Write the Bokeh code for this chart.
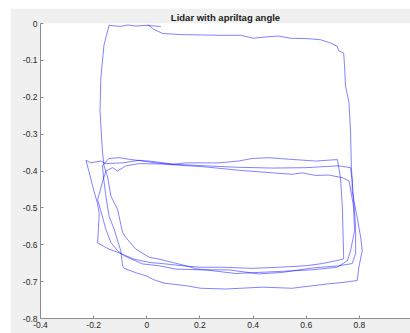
from bokeh.plotting import figure
from bokeh.models import Range1d, FixedTicker
from bokeh.embed import file_html
from bokeh.resources import INLINE

title_text = "Lidar with apriltag angle"
x_ticks = [-0.4, -0.2, 0.0, 0.2, 0.4, 0.6, 0.8]
x_labels = ["-0.4", "-0.2", "0", "0.2", "0.4", "0.6", "0.8"]
y_ticks = [0.0, -0.1, -0.2, -0.3, -0.4, -0.5, -0.6, -0.7, -0.8]
y_labels = ["0", "-0.1", "-0.2", "-0.3", "-0.4", "-0.5", "-0.6", "-0.7", "-0.8"]

# lidar trajectory (x, y) in metres
path_x = [
    0.003, 0.026, 0.060, 0.128, 0.203, 0.278, 0.353, 0.402, 0.454, 0.496, 0.541, 0.604, 0.654, 0.692, 0.717, 0.722, 0.741, 0.744, 0.748, 0.761, 0.767, 0.770,
    0.773, 0.773, 0.778, 0.792, 0.805, 0.811, 0.798, 0.792,
    0.741, 0.684, 0.579, 0.548, 0.435, 0.297, 0.203, 0.147, 0.065, 0.027, -0.004, -0.041, -0.085,
    -0.091, -0.098, -0.123, -0.142, -0.154, -0.162, -0.167,
    -0.143, -0.104, -0.068, -0.016, 0.034, 0.097, 0.147, 0.222, 0.271, 0.346, 0.397, 0.459, 0.534, 0.635, 0.717,
    0.729, 0.736, 0.741, 0.739,
    0.661, 0.598, 0.497, 0.397, 0.285, 0.203,
    0.134, 0.071, 0.009, -0.048, -0.104, -0.142, -0.185,
    -0.179, -0.185, -0.199, -0.218, -0.229,
    -0.211, -0.173, -0.154, -0.091, -0.030, 0.008, 0.109, 0.222, 0.346, 0.473, 0.598, 0.673, 0.722, 0.767,
    0.773, 0.778, 0.786, 0.786, 0.773,
    0.723, 0.623, 0.510, 0.421, 0.308, 0.203,
    0.109, 0.046, -0.016, -0.085, -0.110, -0.135, -0.154, -0.173, -0.185, -0.165, -0.154,
    -0.129, -0.110, -0.079, -0.030, 0.053, 0.222, 0.346, 0.473, 0.548, 0.585, 0.635, 0.684, 0.736, 0.761,
    0.778, 0.782, 0.767, 0.755, 0.717,
    0.623, 0.510, 0.335, 0.184,
    0.147, 0.097, 0.046, 0.009, -0.041, -0.079, -0.091, -0.110, -0.135, -0.148, -0.161,
    -0.167, -0.176, -0.173, -0.161, -0.142, -0.098, -0.071, -0.041, -0.004, 0.053,
]
path_y = [
    -0.002, -0.016, -0.027, -0.030, -0.031, -0.032, -0.032, -0.040, -0.036, -0.034, -0.040, -0.041, -0.044, -0.053, -0.062, -0.074, -0.080, -0.111, -0.170, -0.215, -0.296, -0.391,
    -0.422, -0.454, -0.476, -0.526, -0.580, -0.616, -0.661, -0.697,
    -0.702, -0.706, -0.715, -0.718, -0.715, -0.720, -0.718, -0.711, -0.704, -0.695, -0.684, -0.676, -0.664,
    -0.657, -0.616, -0.558, -0.522, -0.468, -0.422, -0.386,
    -0.366, -0.364, -0.368, -0.373, -0.378, -0.382, -0.378, -0.378, -0.378, -0.373, -0.366, -0.364, -0.368, -0.373, -0.369,
    -0.418, -0.499, -0.634, -0.639,
    -0.651, -0.657, -0.661, -0.664, -0.661, -0.661,
    -0.657, -0.652, -0.648, -0.639, -0.622, -0.612, -0.595,
    -0.516, -0.489, -0.454, -0.400, -0.371,
    -0.378, -0.373, -0.380, -0.378, -0.371, -0.373, -0.382, -0.386, -0.390, -0.392, -0.391, -0.388, -0.386, -0.391,
    -0.427, -0.472, -0.553, -0.624, -0.651,
    -0.657, -0.663, -0.675, -0.679, -0.668, -0.668,
    -0.666, -0.657, -0.652, -0.630, -0.616, -0.594, -0.558, -0.508, -0.478, -0.425, -0.400,
    -0.391, -0.400, -0.386, -0.380, -0.381, -0.389, -0.398, -0.405, -0.409, -0.405, -0.412, -0.411, -0.418, -0.427,
    -0.495, -0.562, -0.616, -0.643, -0.661,
    -0.668, -0.672, -0.678, -0.665,
    -0.657, -0.648, -0.639, -0.634, -0.612, -0.580, -0.567, -0.504, -0.468, -0.414, -0.386,
    -0.346, -0.238, -0.148, -0.058, -0.005, -0.008, -0.004, -0.007, -0.005, -0.008,
]

p = figure(width=400, height=325, output_backend="svg", toolbar_location=None,
           x_range=Range1d(-0.4, 0.9925), y_range=Range1d(-0.8, 0.0),
           min_border_left=30, min_border_right=0, min_border_top=14, min_border_bottom=15)
p.margin = (8, 0, 0, 10)
p.title.text = title_text
p.title.text_font = "Liberation Sans"
p.title.text_font_size = "9.5px"
p.title.text_font_style = "bold"
p.title.text_color = "#1a1a1a"
p.title.align = "center"
p.title.standoff = 2
p.title.offset = 0

p.border_fill_color = "#f0f0f0"
p.background_fill_color = "white"
p.outline_line_color = None
p.xgrid.visible = False
p.ygrid.visible = False

for ax, ticks, labels in ((p.xaxis, x_ticks, x_labels), (p.yaxis, y_ticks, y_labels)):
    ax.ticker = FixedTicker(ticks=ticks)
    ax.major_label_overrides = {t: l for t, l in zip(ticks, labels)}
    ax.axis_line_color = "#8c8c8c"
    ax.major_tick_line_color = "#8c8c8c"
    ax.major_tick_in = 3
    ax.major_tick_out = 0
    ax.minor_tick_line_color = None
    ax.major_label_text_font = "Liberation Sans"
    ax.major_label_text_font_size = "8.5px"
    ax.major_label_text_color = "#262626"
    ax.major_label_standoff = 3

p.line(path_x, path_y, line_color="#0000ff", line_width=0.7, line_alpha=0.7)

open("out.html", "w").write(file_html(p, INLINE))
